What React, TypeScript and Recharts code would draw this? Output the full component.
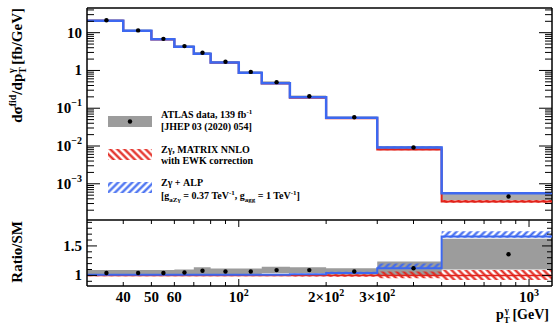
import { ComposedChart, Line, Area, Scatter, XAxis, YAxis, ReferenceLine } from "recharts";

// bins in photon pT [GeV]
const binEdges = [30, 40, 50, 60, 70, 80, 100, 120, 150, 200, 300, 500, 1200];
const binCenters = [35, 45, 55, 65, 75, 90, 110, 135, 175, 250, 400, 850];

// main panel, fb/GeV
const smValues = [20.6, 11.1, 6.6, 4.2, 2.72, 1.6, 0.86, 0.45, 0.19, 0.054, 0.0081, 0.00034];
const alpValues = [20.8, 11.2, 6.67, 4.24, 2.75, 1.62, 0.87, 0.455, 0.194, 0.056, 0.0091, 0.000565];
const dataValues = [21.4, 11.5, 6.86, 4.41, 2.94, 1.7, 0.916, 0.49, 0.207, 0.0575, 0.0091, 0.00046];

// ratio panel (everything / SM)
const ratioSm = [1, 1, 1, 1, 1, 1, 1, 1, 1, 1, 1, 1];
const ratioSmLo = [0.985, 0.985, 0.985, 0.985, 0.985, 0.985, 0.985, 0.985, 0.98, 0.975, 0.95, 0.92];
const ratioSmHi = [1.015, 1.015, 1.015, 1.015, 1.015, 1.015, 1.015, 1.015, 1.02, 1.02, 1.065, 1.09];
const ratioAlp = [1.01, 1.01, 1.01, 1.01, 1.01, 1.01, 1.01, 1.01, 1.02, 1.04, 1.12, 1.66];
const ratioAlpLo = [1.0, 1.0, 1.0, 1.0, 1.0, 1.0, 1.0, 1.0, 1.01, 1.03, 1.12, 1.64];
const ratioAlpHi = [1.02, 1.02, 1.02, 1.02, 1.02, 1.02, 1.02, 1.02, 1.03, 1.06, 1.2, 1.75];
const ratioData = [1.04, 1.04, 1.04, 1.05, 1.08, 1.065, 1.065, 1.09, 1.09, 1.065, 1.12, 1.36];
const ratioDataLo = [0.99, 0.99, 0.99, 1.0, 1.02, 1.015, 1.015, 1.035, 1.04, 1.01, 1.0, 1.1];
const ratioDataHi = [1.09, 1.09, 1.09, 1.1, 1.14, 1.115, 1.115, 1.145, 1.14, 1.12, 1.235, 1.62];

// ticks
const xTicks = [40, 50, 60, 70, 80, 90, 100, 200, 300, 400, 500, 600, 700, 800, 900, 1000];
const xTickLabels: Record<number, [string, string]> = {
  40: ["40", ""],
  50: ["50", ""],
  60: ["60", ""],
  100: ["10", "2"],
  200: ["2\u00d710", "2"],
  300: ["3\u00d710", "2"],
  1000: ["10", "3"],
};
const yLabels: Record<string, [string, string]> = {
  "10": ["10", ""],
  "1": ["1", ""],
  "0.1": ["10", "\u22121"],
  "0.01": ["10", "\u22122"],
  "0.001": ["10", "\u22123"],
};
const yTicks = [
  0.0002, 0.0003, 0.0004, 0.0005, 0.0006, 0.0007, 0.0008, 0.0009,
  0.001, 0.002, 0.003, 0.004, 0.005, 0.006, 0.007, 0.008, 0.009,
  0.01, 0.02, 0.03, 0.04, 0.05, 0.06, 0.07, 0.08, 0.09,
  0.1, 0.2, 0.3, 0.4, 0.5, 0.6, 0.7, 0.8, 0.9,
  1, 2, 3, 4, 5, 6, 7, 8, 9,
  10, 20, 30, 40,
];
const ratioTicks = [0.9, 1, 1.1, 1.2, 1.3, 1.4, 1.5, 1.6, 1.7, 1.8, 1.9];
const ratioLabels: Record<string, string> = { "1": "1", "1.5": "1.5" };

const FONT = "'Liberation Serif', 'Times New Roman', serif";
const RED = "#e2231a";
const BLUE = "#3d68f0";
const GRAY = "#9c9c9c";

const W = 555;
const PLOT_W = 465;
const MAIN_H = 212;
const RATIO_H = 66;

const last = (i: number) => Math.min(i, smValues.length - 1);

const mainRows = binEdges.map((edge, i) => {
  const k = last(i);
  const s = smValues[k];
  return {
    x: edge,
    sm: s,
    alp: alpValues[k],
    dataBand: [s * ratioDataLo[k], s * ratioDataHi[k]],
    smBand: [s * ratioSmLo[k], s * ratioSmHi[k]],
    alpBand: [s * ratioAlpLo[k], s * ratioAlpHi[k]],
  };
});

const ratioRows = binEdges.map((edge, i) => {
  const k = last(i);
  return {
    x: edge,
    sm: ratioSm[k],
    alp: ratioAlp[k],
    dataBand: [ratioDataLo[k], ratioDataHi[k]],
    smBand: [ratioSmLo[k], ratioSmHi[k]],
    alpBand: [ratioAlpLo[k], ratioAlpHi[k]],
  };
});

const mainPoints = binCenters.map((c, i) => ({ x: c, y: dataValues[i] }));
const ratioPoints = binCenters.map((c, i) => ({ x: c, y: ratioData[i] }));

const isDecade = (v: number) => Math.abs(Math.log10(v) - Math.round(Math.log10(v))) < 1e-6;

// ROOT style: ticks inside the frame on both sides
const XTick = (props: any) => {
  const { x, y, payload, plotH, showLabels } = props;
  const v = payload.value;
  const len = isDecade(v) ? 7 : 4;
  const lab = xTickLabels[v];
  return (
    <g>
      <line x1={x} y1={y} x2={x} y2={y - len} stroke="#000" />
      <line x1={x} y1={y - plotH} x2={x} y2={y - plotH + len} stroke="#000" />
      {showLabels && lab && (
        <text x={x} y={y + 16} textAnchor="middle" fontFamily={FONT} fontWeight="bold" fontSize={15} fill="#000">
          {lab[0]}
          {lab[1] && <tspan dy={-6} fontSize={10}>{lab[1]}</tspan>}
        </text>
      )}
    </g>
  );
};

const LogYTick = (props: any) => {
  const { x, y, payload } = props;
  const v = payload.value;
  const major = isDecade(v);
  const len = major ? 13 : 7;
  const lab = yLabels[String(v)];
  return (
    <g>
      <line x1={x} y1={y} x2={x + len} y2={y} stroke="#000" />
      <line x1={x + PLOT_W} y1={y} x2={x + PLOT_W - len} y2={y} stroke="#000" />
      {lab && (
        <text x={x - 5} y={y + 5} textAnchor="end" fontFamily={FONT} fontWeight="bold" fontSize={15} fill="#000">
          {lab[0]}
          {lab[1] && <tspan dy={-7} fontSize={10}>{lab[1]}</tspan>}
        </text>
      )}
    </g>
  );
};

const RatioYTick = (props: any) => {
  const { x, y, payload } = props;
  const lab = ratioLabels[String(payload.value)];
  const len = lab ? 10 : 5;
  return (
    <g>
      <line x1={x} y1={y} x2={x + len} y2={y} stroke="#000" />
      <line x1={x + PLOT_W} y1={y} x2={x + PLOT_W - len} y2={y} stroke="#000" />
      {lab && (
        <text x={x - 5} y={y + 5} textAnchor="end" fontFamily={FONT} fontWeight="bold" fontSize={15} fill="#000">
          {lab}
        </text>
      )}
    </g>
  );
};

const Dot = (p: any) => <circle cx={p.cx} cy={p.cy} r={2.2} fill="#000" />;

const Hatches = () => (
  <defs>
    <pattern id="redHatch" width={5} height={5} patternUnits="userSpaceOnUse" patternTransform="rotate(-45)">
      <line x1={2.5} y1={0} x2={2.5} y2={5} stroke={RED} strokeWidth={2.2} />
    </pattern>
    <pattern id="blueHatch" width={5} height={5} patternUnits="userSpaceOnUse" patternTransform="rotate(45)">
      <line x1={2.5} y1={0} x2={2.5} y2={5} stroke={BLUE} strokeWidth={2.2} />
    </pattern>
  </defs>
);

const legendText = { fontFamily: FONT, fontWeight: "bold", fontSize: 10, fill: "#000" } as const;

const App = () => {
  return (
    <div style={{ position: "absolute", left: 0, top: 0, width: W, height: 329, background: "#fff" }}>
      <div style={{ position: "absolute", left: 0, top: 0 }}>
        <ComposedChart width={W} height={222} data={mainRows} margin={{ top: 8, right: 3, bottom: 2, left: 0 }}>
          <Hatches />
          <XAxis
            dataKey="x"
            type="number"
            scale="log"
            domain={[30, 1200]}
            allowDataOverflow
            ticks={xTicks}
            interval={0}
            height={0}
            tickSize={0}
            tickMargin={0}
            tickLine={false}
            axisLine={{ stroke: "#000", strokeWidth: 1.5 }}
            tick={(p: any) => <XTick {...p} plotH={MAIN_H} showLabels={false} />}
          />
          <YAxis
            type="number"
            scale="log"
            domain={[1.1e-4, 45]}
            allowDataOverflow
            ticks={yTicks}
            interval={0}
            width={87}
            tickSize={0}
            tickMargin={0}
            tickLine={false}
            axisLine={{ stroke: "#000", strokeWidth: 1.5 }}
            tick={(p: any) => <LogYTick {...p} />}
          />
          <ReferenceLine y={45} stroke="#000" strokeWidth={1.5} ifOverflow="extendDomain" />
          <ReferenceLine x={1200} stroke="#000" strokeWidth={1.5} ifOverflow="extendDomain" />
          <Area type="stepAfter" dataKey="dataBand" stroke="none" fill={GRAY} fillOpacity={0.85} isAnimationActive={false} />
          <Area type="stepAfter" dataKey="smBand" stroke="none" fill="url(#redHatch)" fillOpacity={1} isAnimationActive={false} />
          <Area type="stepAfter" dataKey="alpBand" stroke="none" fill="url(#blueHatch)" fillOpacity={1} isAnimationActive={false} />
          <Line type="stepAfter" dataKey="sm" stroke={RED} strokeWidth={2} dot={false} activeDot={false} isAnimationActive={false} />
          <Line type="stepAfter" dataKey="alp" stroke={BLUE} strokeWidth={2.5} dot={false} activeDot={false} isAnimationActive={false} />
          <Scatter data={mainPoints} dataKey="y" shape={Dot} isAnimationActive={false} />

          {/* legend, ROOT style */}
          <rect x={108} y={116} width={44} height={11} fill={GRAY} />
          <circle cx={130} cy={121.5} r={2.2} fill="#000" />
          <text x={161} y={118} {...legendText}>
            ATLAS data, 139 fb<tspan dy={-4} fontSize={7}>-1</tspan>
          </text>
          <text x={161} y={130} {...legendText}>[JHEP 03 (2020) 054]</text>

          <rect x={108} y={149} width={44} height={11} fill="url(#redHatch)" />
          <text x={161} y={153} {...legendText}>Z&gamma;, MATRIX NNLO</text>
          <text x={161} y={164} {...legendText}>with EWK correction</text>

          <rect x={108} y={182} width={44} height={11} fill="url(#blueHatch)" />
          <text x={161} y={186} {...legendText}>Z&gamma; + ALP</text>
          <text x={161} y={199} {...legendText}>
            [g<tspan dy={3} fontSize={7}>aZ&gamma;</tspan>
            <tspan dy={-3}> = 0.37 TeV</tspan>
            <tspan dy={-4} fontSize={7}>-1</tspan>
            <tspan dy={4}>, g</tspan>
            <tspan dy={3} fontSize={7}>agg</tspan>
            <tspan dy={-3}> = 1 TeV</tspan>
            <tspan dy={-4} fontSize={7}>-1</tspan>
            <tspan dy={4}>]</tspan>
          </text>

          <text transform="translate(22,8) rotate(-90)" textAnchor="end" fontFamily={FONT} fontWeight="bold" fontSize={15} fill="#000">
            d&sigma;<tspan dy={-6} fontSize={10}>fid</tspan>
            <tspan dy={6}>/dp</tspan>
            <tspan dy={4} fontSize={10}>T</tspan>
            <tspan dx={-6} dy={-11} fontSize={10}>&gamma;</tspan>
            <tspan dy={7}> [fb/GeV]</tspan>
          </text>
        </ComposedChart>
      </div>

      <div style={{ position: "absolute", left: 0, top: 218 }}>
        <ComposedChart width={W} height={109} data={ratioRows} margin={{ top: 2, right: 3, bottom: 0, left: 0 }}>
          <Hatches />
          <XAxis
            dataKey="x"
            type="number"
            scale="log"
            domain={[30, 1200]}
            allowDataOverflow
            ticks={xTicks}
            interval={0}
            height={41}
            tickSize={0}
            tickMargin={0}
            tickLine={false}
            axisLine={{ stroke: "#000", strokeWidth: 1.5 }}
            tick={(p: any) => <XTick {...p} plotH={RATIO_H} showLabels />}
          />
          <YAxis
            type="number"
            domain={[0.82, 1.94]}
            allowDataOverflow
            ticks={ratioTicks}
            interval={0}
            width={87}
            tickSize={0}
            tickMargin={0}
            tickLine={false}
            axisLine={{ stroke: "#000", strokeWidth: 1.5 }}
            tick={(p: any) => <RatioYTick {...p} />}
          />
          <ReferenceLine y={1.94} stroke="#000" strokeWidth={1.5} ifOverflow="extendDomain" />
          <ReferenceLine x={1200} stroke="#000" strokeWidth={1.5} ifOverflow="extendDomain" />
          <Area type="stepAfter" dataKey="dataBand" stroke="none" fill={GRAY} fillOpacity={1} isAnimationActive={false} />
          <Area type="stepAfter" dataKey="smBand" stroke="none" fill="url(#redHatch)" fillOpacity={1} isAnimationActive={false} />
          <Area type="stepAfter" dataKey="alpBand" stroke="none" fill="url(#blueHatch)" fillOpacity={1} isAnimationActive={false} />
          <Line type="stepAfter" dataKey="sm" stroke={RED} strokeWidth={1.5} dot={false} activeDot={false} isAnimationActive={false} />
          <Line type="stepAfter" dataKey="alp" stroke={BLUE} strokeWidth={2} dot={false} activeDot={false} isAnimationActive={false} />
          <Scatter data={ratioPoints} dataKey="y" shape={Dot} isAnimationActive={false} />

          <text transform="translate(22,3) rotate(-90)" textAnchor="end" fontFamily={FONT} fontWeight="bold" fontSize={15} fill="#000">
            Ratio/SM
          </text>
          <text x={549} y={101} textAnchor="end" fontFamily={FONT} fontWeight="bold" fontSize={14} fill="#000">
            p<tspan dy={4} fontSize={9}>T</tspan>
            <tspan dx={-5} dy={-10} fontSize={9}>&gamma;</tspan>
            <tspan dy={6}> [GeV]</tspan>
          </text>
        </ComposedChart>
      </div>
    </div>
  );
};

export default App;
